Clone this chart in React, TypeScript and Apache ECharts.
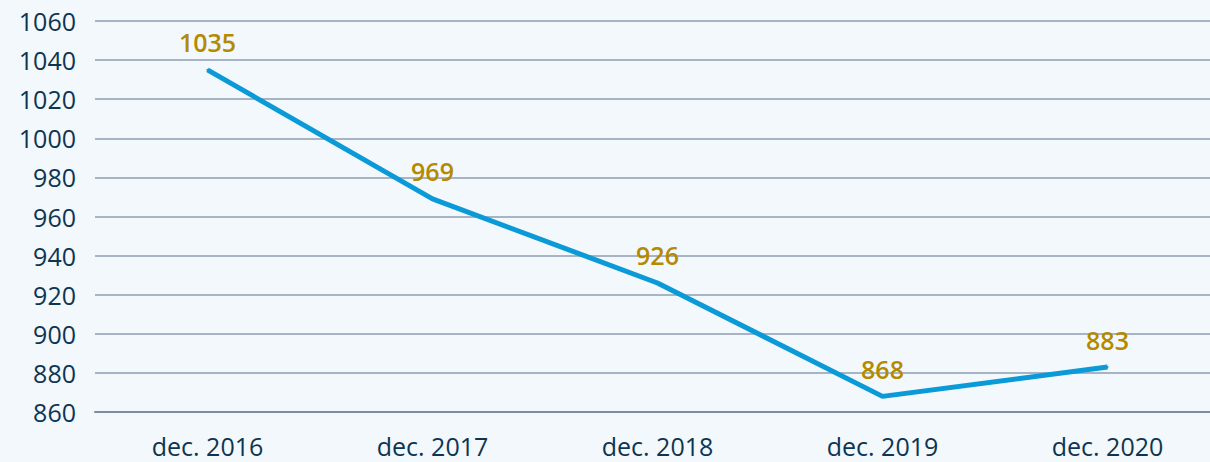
import React, { useEffect, useRef } from "react";
import * as echarts from "echarts";

const categories = ["dec. 2016", "dec. 2017", "dec. 2018", "dec. 2019", "dec. 2020"];
const values = [1035, 969, 926, 868, 883];
const yMin = 860;
const yMax = 1060;
const yStep = 20;

const FONT = "'Open Sans', 'Noto Sans', sans-serif";

export default function App() {
  const ref = useRef<HTMLDivElement>(null);
  useEffect(() => {
    document.body.style.margin = "0";
    if (!ref.current) return;
    const chart = echarts.init(ref.current, undefined, { renderer: "svg" });
    chart.setOption({
      animation: false,
      backgroundColor: "#f3f8fc",
      grid: { left: 95, right: 0, top: 21, bottom: 50, containLabel: false },
      xAxis: {
        type: "category",
        data: categories,
        boundaryGap: true,
        axisLine: { show: true, lineStyle: { color: "#7a8ca3", width: 2 } },
        axisTick: { show: false },
        axisLabel: { color: "#0d3552", fontSize: 25, fontFamily: FONT, fontWeight: 500, margin: 21 },
      },
      yAxis: {
        type: "value",
        min: yMin,
        max: yMax,
        interval: yStep,
        axisLine: { show: false },
        axisTick: { show: false },
        splitLine: { lineStyle: { color: "#a7b4c6", width: 2 } },
        axisLabel: {
          color: "#0d3552",
          fontSize: 25,
          fontFamily: FONT,
          fontWeight: 500,
          margin: 19,
          formatter: (v: number) => String(v),
        },
      },
      series: [
        {
          type: "line",
          data: values,
          symbol: "circle",
          symbolSize: 2,
          showSymbol: true,
          lineStyle: { color: "#0a9ad8", width: 5 },
          itemStyle: { color: "#0a9ad8" },
          label: {
            show: true,
            position: "top",
            distance: 14,
            color: "#b38a00",
            fontSize: 25,
            fontFamily: FONT,
            fontWeight: 600,
            formatter: (p: any) => String(p.value),
          },
        },
      ],
    });
    return () => chart.dispose();
  }, []);
  return (
    <div style={{ position: "fixed", left: 0, top: 0, width: 1210, height: 462, overflow: "hidden" }}>
      <div ref={ref} style={{ width: 1220, height: 462 }} />
    </div>
  );
}
